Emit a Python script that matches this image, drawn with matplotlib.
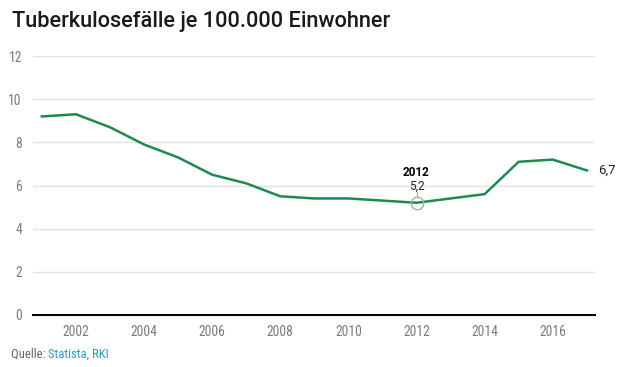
import matplotlib
matplotlib.use("Agg")
import matplotlib.pyplot as plt

years = [2001, 2002, 2003, 2004, 2005, 2006, 2007, 2008, 2009, 2010,
         2011, 2012, 2013, 2014, 2015, 2016, 2017]
cases = [9.2, 9.3, 8.7, 7.9, 7.3, 6.5, 6.1, 5.5, 5.4, 5.4,
         5.3, 5.2, 5.4, 5.6, 7.1, 7.2, 6.7]
xticks = [2002, 2004, 2006, 2008, 2010, 2012, 2014, 2016]
yticks = [0, 2, 4, 6, 8, 10, 12]
title = "Tuberkulosefälle je 100.000 Einwohner"
highlight_year = 2012

cond = ['Roboto Condensed', 'Roboto', 'DejaVu Sans']
plt.rcParams['font.family'] = ['Roboto', 'DejaVu Sans']

fig = plt.figure(figsize=(6.39, 3.67), dpi=100)
ax = fig.add_axes([33/639, 1 - 315/367, (595-33)/639, (315-56)/367])

line_color = '#1e8a4f'
ax.plot(years, cases, color=line_color, lw=1.8, zorder=3)
ax.set_xlim(2000.74, 2017.24)
ax.set_ylim(0, 12)
ax.set_xticks(xticks)
ax.set_xticklabels([str(t) for t in xticks], family=cond)
ax.set_yticks(yticks)
ax.set_yticklabels([str(t) for t in yticks], family=cond)
ax.grid(axis='y', color='#e3e3e3', lw=1)
ax.set_axisbelow(True)
for s in ['top', 'right', 'left']:
    ax.spines[s].set_visible(False)
ax.spines['bottom'].set_color('black')
ax.spines['bottom'].set_linewidth(1.5)
ax.spines['bottom'].set_zorder(4)
ax.tick_params(axis='both', length=0, colors='#7a7a7a', labelsize=9.8)
ax.tick_params(axis='x', pad=7)
ax.tick_params(axis='y', pad=8)

# highlight annotation
hv = cases[years.index(highlight_year)]
ax.plot([highlight_year], [hv], marker='o', ms=9, mfc='none', mec='#aaaaaa', mew=1, zorder=4)
ax.plot([highlight_year, highlight_year], [hv + 0.25, hv + 0.5], color='#aaaaaa', lw=0.8)
ax.annotate(str(highlight_year), (highlight_year, hv), xytext=(0, 22), textcoords='offset points',
            ha='center', va='center', fontsize=8.5, fontweight='bold', color='black')
ax.annotate(f"{hv:.1f}".replace('.', ','), (highlight_year, hv), xytext=(0, 12), textcoords='offset points',
            ha='center', va='center', fontsize=8.5, color='#222222')

# end label
ev = cases[-1]
ax.annotate(f"{ev:.1f}".replace('.', ','), (years[-1], ev), xytext=(8, 0), textcoords='offset points',
            ha='left', va='center', fontsize=9.5, color='#222222', annotation_clip=False)
ax.annotate("", (years[-1] + 0.08, ev), xytext=(years[-1] + 0.18, ev),
            arrowprops=dict(arrowstyle='-', color='#999999', lw=0.8), annotation_clip=False)

fig.text(12/639, 1 - 22/367, title, fontsize=15.7, fontweight='medium', color='#1a1a1a',
         ha='left', va='center')
t1 = fig.text(11/639, 1 - 354/367, "Quelle: ", fontsize=9.2, color='#666666', ha='left', va='center',
              family=cond)
fig.canvas.draw()
bb = t1.get_window_extent()
fig.text(bb.x1/639, 1 - 354/367, "Statista, RKI", fontsize=9.2, color='#2e9bb5', ha='left', va='center',
         family=cond)

fig.savefig('out.png', dpi=100)
